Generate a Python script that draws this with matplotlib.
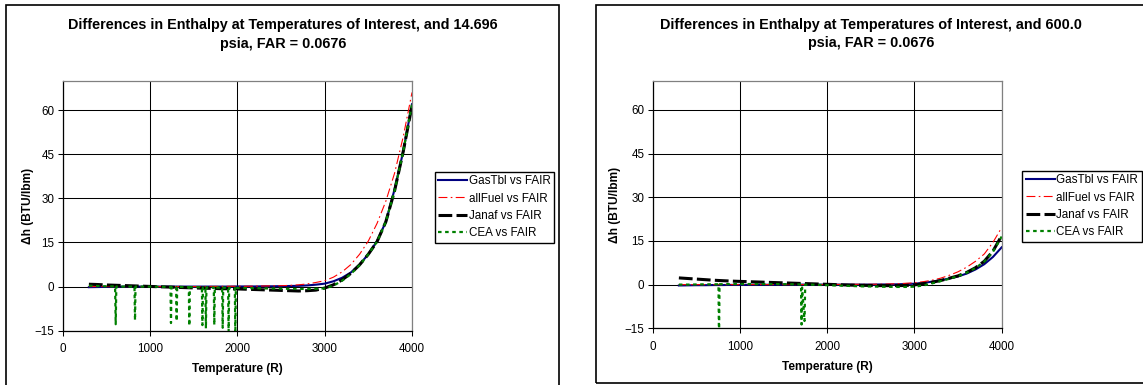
import matplotlib
matplotlib.use('Agg')
import matplotlib.pyplot as plt
from matplotlib.patches import Rectangle

plt.rcParams['font.family'] = ['Liberation Sans', 'DejaVu Sans']

W, H = 1143, 385

# temperature grid (R)
temps = [300, 400, 500, 600, 700, 800, 900, 1000, 1100, 1200,
         1300, 1400, 1500, 1600, 1700, 1800, 1900, 2000, 2100, 2200,
         2300, 2400, 2500, 2600, 2700, 2800, 2900, 3000, 3100, 3200,
         3300, 3400, 3500, 3600, 3700, 3800, 3900, 4000]

# ---- 14.696 psia ----
gastbl_lo = [-0.2, -0.15, -0.1, -0.05, 0.0, 0.0, 0.0, 0.0, 0.0, 0.0,
             0.0, 0.0, 0.0, 0.0, 0.0, 0.0, 0.0, 0.05, 0.05, 0.05,
             0.1, 0.1, 0.15, 0.2, 0.25, 0.4, 0.65, 1.0, 1.8, 3.0,
             4.8, 7.5, 11.0, 15.5, 22.0, 33.0, 46.0, 62.0]
allfuel_lo = [0.0, 0.0, 0.0, 0.0, 0.0, 0.0, 0.0, 0.0, 0.0, 0.0,
              0.0, 0.0, 0.0, 0.0, 0.05, 0.05, 0.1, 0.1, 0.1, 0.15,
              0.2, 0.25, 0.3, 0.4, 0.6, 0.9, 1.4, 2.0, 3.2, 5.0,
              7.5, 11.0, 15.5, 21.5, 29.0, 38.5, 51.0, 66.0]
janaf_lo = [0.8, 0.7, 0.55, 0.45, 0.35, 0.25, 0.15, 0.05, -0.05, -0.15,
            -0.25, -0.35, -0.45, -0.55, -0.6, -0.7, -0.75, -0.8, -0.9, -1.0,
            -1.1, -1.2, -1.3, -1.4, -1.5, -1.4, -1.2, -0.5, 0.6, 2.3,
            4.5, 7.4, 11.0, 15.3, 22.0, 32.5, 46.0, 61.5]
cea_lo_t = [300, 400, 500, 600, 607, 614, 700, 800, 822, 828, 834, 900,
            1000, 1100, 1200, 1234, 1240, 1246, 1299, 1305, 1311, 1400,
            1444, 1450, 1456, 1500, 1594, 1600, 1606, 1634, 1640, 1646,
            1700, 1730, 1736, 1742, 1800, 1826, 1832, 1838, 1894, 1900,
            1906, 1971, 1977, 1983, 2000, 2100, 2200, 2300, 2400, 2500,
            2600, 2700, 2800, 2900, 3000, 3100, 3200, 3300, 3400, 3500,
            3600, 3700, 3800, 3900, 4000]
cea_lo = [0.3, 0.2, 0.1, 0.05, -12.8, 0.0, 0.0, 0.0, 0.0, -11.4, 0.0, 0.0,
          0.0, -0.05, -0.1, -0.1, -12.4, -0.1, -0.1, -11.7, -0.1, -0.15,
          -0.2, -13.3, -0.2, -0.2, -0.25, -13.1, -0.25, -0.3, -14.2, -0.3,
          -0.3, -0.3, -13.0, -0.3, -0.35, -0.35, -14.0, -0.35, -0.4, -15.5,
          -0.4, -0.45, -16.0, -0.45, -0.45, -0.5, -0.55, -0.6, -0.65, -0.7,
          -0.75, -0.8, -0.8, -0.75, -0.6, 0.3, 2.0, 4.3, 7.3, 11.0,
          15.3, 22.0, 32.5, 46.0, 62.0]

# ---- 600.0 psia ----
gastbl_hi = [-0.3, -0.25, -0.2, -0.2, -0.15, -0.15, -0.1, -0.1, -0.1, -0.05,
             -0.05, -0.05, 0.0, 0.0, 0.0, 0.0, 0.0, 0.0, 0.0, 0.0,
             0.0, 0.0, 0.0, 0.05, 0.05, 0.1, 0.2, 0.3, 0.6, 1.0,
             1.5, 2.1, 2.8, 3.8, 5.2, 7.0, 9.5, 12.8]
allfuel_hi = [0.0, 0.0, 0.0, 0.0, 0.0, 0.0, 0.0, 0.0, 0.0, 0.0,
              0.0, 0.0, 0.0, 0.0, 0.0, 0.0, 0.0, 0.05, 0.05, 0.05,
              0.1, 0.1, 0.1, 0.15, 0.2, 0.3, 0.45, 0.6, 1.0, 1.5,
              2.2, 3.2, 4.4, 6.0, 8.0, 10.5, 14.5, 19.6]
janaf_hi = [2.3, 2.1, 1.9, 1.7, 1.5, 1.35, 1.2, 1.1, 1.0, 0.9,
            0.8, 0.7, 0.6, 0.5, 0.4, 0.3, 0.2, 0.1, 0.0, -0.1,
            -0.2, -0.25, -0.3, -0.35, -0.35, -0.35, -0.3, -0.1, 0.3, 0.8,
            1.4, 2.2, 3.0, 4.2, 5.8, 8.0, 11.5, 16.8]
cea_hi_t = [300, 400, 500, 600, 700, 754, 760, 766, 800, 900,
            1000, 1100, 1200, 1300, 1400, 1500, 1600, 1700, 1706, 1712,
            1740, 1748, 1800, 1900, 2000, 2100, 2200, 2300, 2400, 2500,
            2600, 2700, 2800, 2900, 3000, 3100, 3200, 3300, 3400, 3500,
            3600, 3700, 3800, 3900, 4000]
cea_hi = [0.0, 0.0, 0.05, 0.1, 0.1, 0.12, -20.0, 0.12, 0.15, 0.2,
          0.2, 0.2, 0.2, 0.2, 0.2, 0.15, 0.1, 0.05, -13.7, -1.0,
          -12.5, 0.0, 0.0, -0.1, -0.2, -0.3, -0.4, -0.5, -0.6, -0.65,
          -0.7, -0.75, -0.8, -0.8, -0.7, -0.3, 0.4, 1.2, 2.0, 2.9,
          4.1, 5.7, 7.9, 11.3, 16.5]

labels = ['GasTbl vs FAIR', 'allFuel vs FAIR', 'Janaf vs FAIR', 'CEA vs FAIR']
x_ticks = [0, 1000, 2000, 3000, 4000]
y_ticks = [-15, 0, 15, 30, 45, 60]

styles = [
    dict(color='#000080', lw=1.5, ls='-'),
    dict(color='#ff0000', lw=0.8, ls=(0, (8, 3, 1.5, 3))),
    dict(color='black', lw=2.2, ls=(0, (4.5, 1.4))),
    dict(color='#008000', lw=1.6, ls=(0, (1.6, 1.6))),
]


def fx(px):
    return px / W


def fy(py):
    return 1 - py / H


def panel(fig, frame, ax_box, title, title_cx, title_ys, series, leg_xy, ylab_x, xlab_y):
    x0, y0, x1, y1 = frame
    fig.add_artist(Rectangle((fx(x0), fy(y1)), fx(x1 - x0), (y1 - y0) / H,
                             transform=fig.transFigure, fill=False,
                             ec='black', lw=1.2))
    l, t, r, b = ax_box
    ax = fig.add_axes([fx(l), fy(b), fx(r - l), (b - t) / H])
    for (xs, ys), lab, st in zip(series, labels, styles):
        ax.plot(xs, ys, label=lab, **st)
    ax.set_xlim(0, 4000)
    ax.set_ylim(-15, 70)
    ax.set_xticks(x_ticks)
    ax.set_yticks(y_ticks)
    ax.grid(True, color='black', lw=0.75)
    ax.set_axisbelow(True)
    ax.tick_params(direction='out', length=3.5, width=0.75, labelsize=8.4)
    ax.tick_params(axis='x', pad=5.5)
    ax.tick_params(axis='y', pad=2.5)
    for s in ['top', 'right']:
        ax.spines[s].set_color('#808080')
    for s in ax.spines.values():
        s.set_linewidth(0.9)

    for line, yy in zip(title, title_ys):
        fig.text(fx(title_cx), fy(yy), line, ha='center', va='center',
                 fontsize=10.4, fontweight='bold')
    fig.text(fx((l + r) / 2), fy(xlab_y), 'Temperature (R)', ha='center',
             va='center', fontsize=8.6, fontweight='bold')
    fig.text(fx(ylab_x), fy((t + b) / 2), 'Δh (BTU/lbm)', ha='center',
             va='center', rotation=90, fontsize=8.6, fontweight='bold')

    leg = ax.legend(loc='upper left', bbox_to_anchor=(fx(leg_xy[0]), fy(leg_xy[1])),
                    bbox_transform=fig.transFigure, fancybox=False,
                    edgecolor='black', framealpha=1, fontsize=8.4,
                    handlelength=2.5, handletextpad=0.15, borderpad=0.3,
                    labelspacing=0.46, borderaxespad=0)
    leg.get_frame().set_linewidth(1.0)
    return ax


fig = plt.figure(figsize=(W / 100, H / 100), dpi=100)

panel(fig, (6, 5.3, 559.3, 395), (62.7, 80.7, 412, 330.7),
      ['Differences in Enthalpy at Temperatures of Interest, and 14.696',
       'psia, FAR = 0.0676'], 283, [25, 44],
      [(temps, gastbl_lo), (temps, allfuel_lo), (temps, janaf_lo), (cea_lo_t, cea_lo)],
      (434.5, 171.7), 27.5, 368.7)

panel(fig, (596, 5.3, 1146, 383.3), (652.7, 80.7, 1001.7, 328.3),
      ['Differences in Enthalpy at Temperatures of Interest, and 600.0',
       'psia, FAR = 0.0676'], 871, [25, 43.5],
      [(temps, gastbl_hi), (temps, allfuel_hi), (temps, janaf_hi), (cea_hi_t, cea_hi)],
      (1022, 170.7), 615, 366.7)

fig.savefig('out.png', dpi=100)
